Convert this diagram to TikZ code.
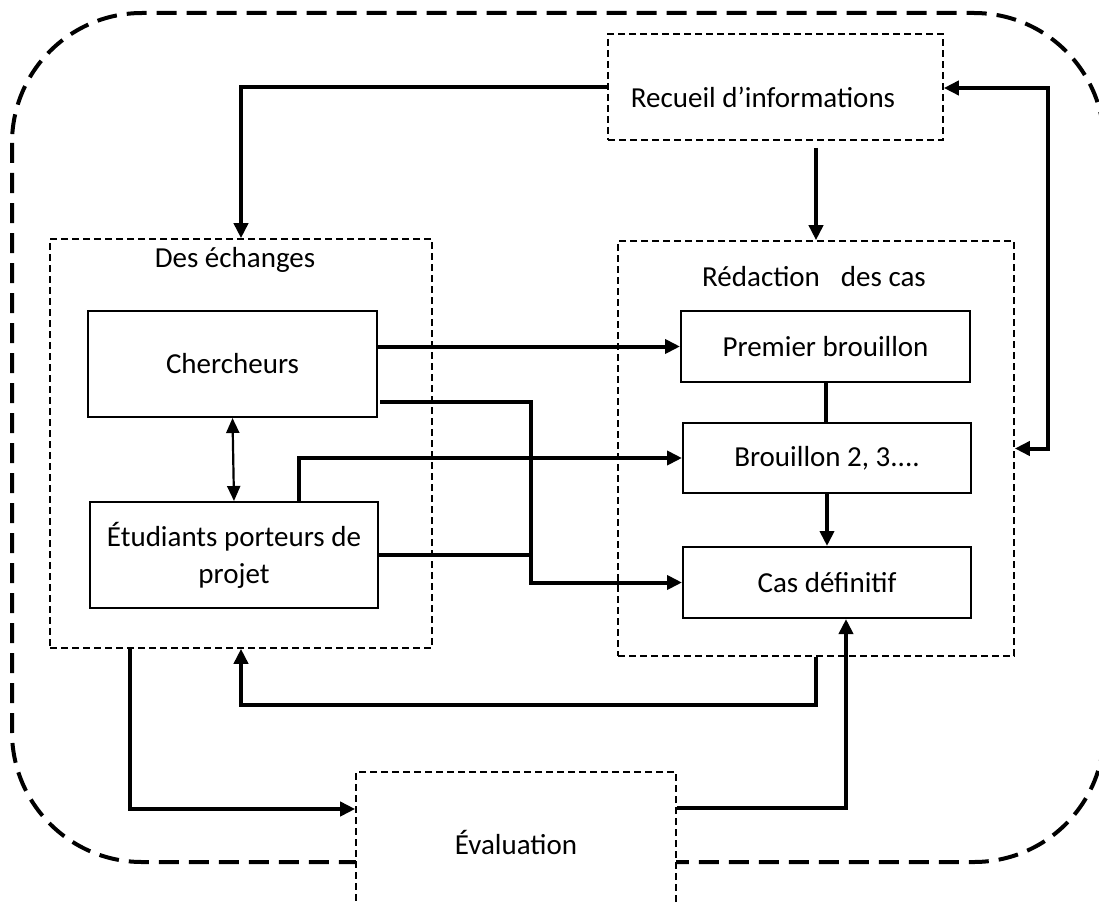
\documentclass[tikz,border=0pt]{standalone}
\usepackage{fontspec}
\setmainfont{Carlito}
\usepackage{tikz}
\usetikzlibrary{arrows.meta}

\tikzset{
	box/.style={draw,line width=2pt,inner sep=0pt},
	dbox/.style={draw,line width=1.6pt,dash pattern=on 7pt off 4pt,inner sep=0pt},
	link/.style={line width=4pt},
	tip/.style={-{Triangle[length=15pt,width=14pt]}},
}

\begin{document}
\begin{tikzpicture}[x=1pt,y=-1pt,font=\fontsize{29}{37}\selectfont]
	\clip (0,0) rectangle (1099,904);
	\fill[white] (0,0) rectangle (1099,904);

	\draw[line width=4pt,dash pattern=on 20pt off 10pt,rounded corners=130pt] (12,13) rectangle (1104,862);

	\node[dbox,minimum width=335,minimum height=106] (recueil) at (775.5,87) {};
	\node (recueiltxt) at (763,97) {Recueil d’informations};

	\node[dbox,minimum width=382,minimum height=409] (echanges) at (241,443.5) {};
	\node (echangestxt) at (235,260) {Des échanges};
	\node[box,minimum width=289,minimum height=106] (chercheurs) at (232.5,364) {Chercheurs};
	\node[box,minimum width=288,minimum height=106,align=center] (etudiants) at (234,555) {Étudiants porteurs de\\projet};

	\node[dbox,minimum width=396,minimum height=415] (redaction) at (816,448.5) {};
	\node (redactiontxt) at (814,277) {Rédaction\hspace{0.5em} des cas};
	\node[box,minimum width=289,minimum height=71] (premier) at (825.5,346.5) {Premier brouillon};
	\node[box,minimum width=288,minimum height=70] (brouillon) at (827,458) {Brouillon 2, 3....};
	\node[box,minimum width=288,minimum height=71] (cas) at (827,582.5) {Cas définitif};

	\node[dbox,fill=white,minimum width=320,minimum height=140] (evaluation) at (516,842) {Évaluation};

	\coordinate (rightbend) at (1048,88);
	\coordinate (chout) at (380,402);
	\coordinate (colA) at (531,0);

\draw[link,tip] (recueil.west) -| (echanges.north);
\draw[link,tip] ([yshift=-7pt]recueil.south -| redaction.north) -- (redaction.north);
\draw[link,{Triangle[length=15pt,width=14pt]}-{Triangle[length=15pt,width=14pt]}] (recueil.east |- rightbend) -- (rightbend) |- (redaction.east);

\draw[link,tip] (chercheurs.east |- premier.west) -- (premier.west);
\draw[link,tip] (chout) -| (colA |- cas.west) -- (cas.west);
\draw[link,tip] ([xshift=65pt]etudiants.north) |- (brouillon.west);
\draw[link] (etudiants.east) -- (etudiants.east -| colA);
\draw[line width=2.2pt,{Triangle[length=15pt,width=13pt]}-{Triangle[length=15pt,width=13pt]}] (chercheurs.south) -- (etudiants.north);

\draw[link] (premier.south) -- (premier.south |- brouillon.north);
\draw[link,tip] (brouillon.south) -- (cas.north);

\draw[link,tip] (redaction.south) -- ++(0,48) -| (echanges.south);
\draw[link,tip] ([xshift=-111pt]echanges.south) |- ([yshift=33pt]evaluation.west);
\draw[link,tip] ([yshift=34pt]evaluation.east) -| ([xshift=19pt]cas.south);
\end{tikzpicture}
\end{document}
